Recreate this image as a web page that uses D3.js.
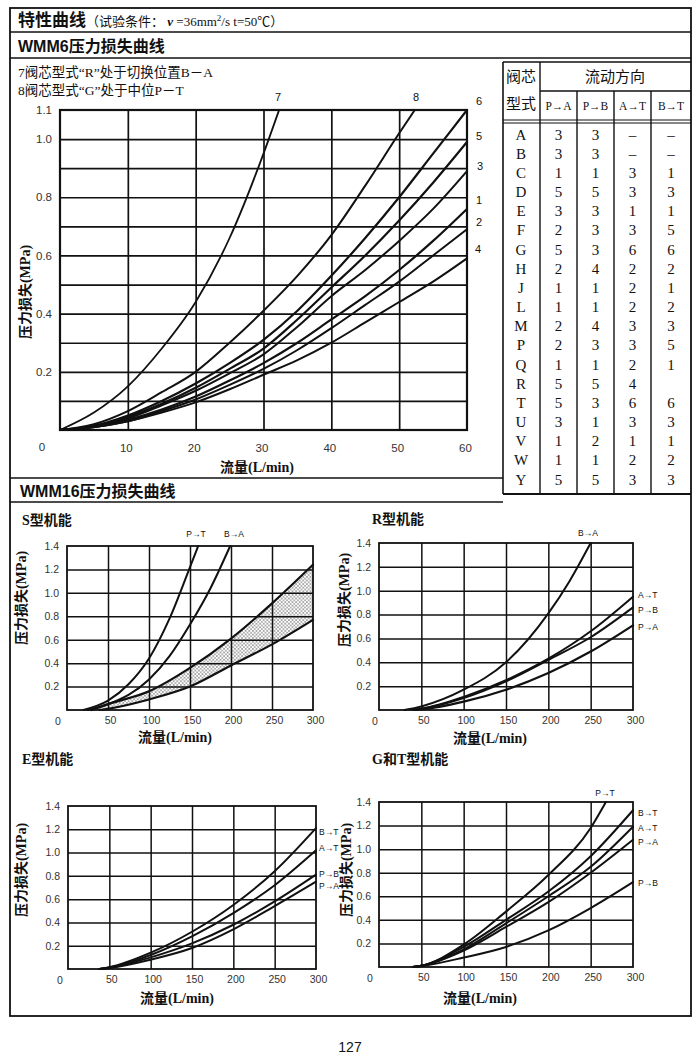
<!DOCTYPE html>
<html><head><meta charset="utf-8">
<script src="https://cdn.jsdelivr.net/npm/d3@7"></script>
<style>
body{margin:0;background:#fff;}
svg{display:block;}
.serif{font-family:"Liberation Serif","Noto Sans CJK SC",serif;}
.sans{font-family:"Liberation Sans","Noto Sans CJK SC",sans-serif;}
</style></head>
<body>
<svg id="c" width="700" height="1062"></svg>
<script>
// ---------- WMM6 data (flow L/min, pressure loss MPa) ----------
const w6Q7 = [0,5,10,15,20,25,30,32.3];
const w6P7 = [0,0.06,0.15,0.28,0.44,0.66,0.95,1.1];
const w6Q8 = [0,5,10,15,20,25,30,35,40,45,50,52.3];
const w6P8 = [0,0.02,0.065,0.13,0.2,0.3,0.41,0.53,0.67,0.84,1.02,1.1];
const w6Q  = [0,5,10,15,20,25,30,35,40,45,50,55,60];
const w6P6 = [0,0.015,0.05,0.1,0.16,0.23,0.31,0.41,0.53,0.66,0.80,0.95,1.10];
const w6P5 = [0,0.013,0.045,0.09,0.145,0.21,0.28,0.38,0.49,0.60,0.72,0.85,0.99];
const w6P3 = [0,0.012,0.04,0.085,0.135,0.195,0.26,0.355,0.46,0.55,0.65,0.76,0.89];
const w6P1 = [0,0.01,0.035,0.07,0.115,0.17,0.23,0.30,0.38,0.46,0.55,0.65,0.76];
const w6P2 = [0,0.01,0.03,0.065,0.105,0.155,0.21,0.275,0.35,0.43,0.51,0.60,0.69];
const w6P4 = [0,0.01,0.03,0.06,0.095,0.14,0.19,0.24,0.30,0.37,0.44,0.51,0.59];
const w6XTicks = [10,20,30,40,50,60];
const w6YTicks = [0.2,0.4,0.6,0.8,1.0,1.1];
const w6YTickLabels = ["0.2","0.4","0.6","0.8","1.0","1.1"];

// ---------- table ----------
const tblTypes = ["A","B","C","D","E","F","G","H","J","L","M","P","Q","R","T","U","V","W","Y"];
const tblPA = ["3","3","1","5","3","2","5","2","1","1","2","2","1","5","5","3","1","1","5"];
const tblPB = ["3","3","1","5","3","3","3","4","1","1","4","3","1","5","3","1","2","1","5"];
const tblAT = ["–","–","3","3","1","3","6","2","2","2","3","3","2","4","6","3","1","2","3"];
const tblBT = ["–","–","1","3","1","5","6","2","1","2","3","5","1","","6","3","1","2","3"];
const tblHeads = ["P→A","P→B","A→T","B→T"];

// ---------- WMM16 data (flow L/min, pressure loss MPa) ----------
const bigXTicks = [50,100,150,200,250,300];
const bigYTicks = [0.2,0.4,0.6,0.8,1.0,1.2,1.4];
const bigYTickLabels = ["0.2","0.4","0.6","0.8","1.0","1.2","1.4"];
// S
const sQ_PT = [20,50,75,100,125,150,160];
const sP_PT = [0,0.08,0.22,0.44,0.78,1.22,1.4];
const sQ_BA = [25,50,100,125,150,175,199];
const sP_BA = [0,0.05,0.26,0.46,0.73,1.04,1.4];
const sQ_BandHi = [30,50,100,150,200,250,300];
const sP_BandHi = [0,0.05,0.16,0.36,0.61,0.91,1.24];
const sQ_BandLo = [40,50,100,150,200,250,300];
const sP_BandLo = [0,0.01,0.09,0.20,0.38,0.56,0.77];
// R
const rQ_BA = [30,50,100,150,200,225,250];
const rP_BA = [0,0.03,0.17,0.40,0.81,1.08,1.4];
const rQ = [40,50,100,150,200,250,300];
const rP_AT = [0,0.01,0.11,0.25,0.43,0.66,0.95];
const rP_PB = [0,0.01,0.10,0.24,0.42,0.61,0.86];
const rP_PA = [0,0.005,0.07,0.17,0.31,0.49,0.71];
// E
const eQ = [38,50,100,150,200,250,300];
const eP_BT = [0,0.015,0.14,0.32,0.55,0.84,1.21];
const eP_AT = [0,0.012,0.12,0.28,0.48,0.72,1.02];
const eP_PB = [0,0.01,0.10,0.22,0.38,0.58,0.81];
const eP_PA = [0,0.008,0.08,0.18,0.34,0.54,0.75];
// G & T
const gQ_PT = [40,50,100,150,200,250,268];
const gP_PT = [0,0.01,0.19,0.47,0.78,1.18,1.4];
const gQ = [40,50,100,150,200,250,300];
const gP_BT = [0,0.01,0.17,0.40,0.64,0.94,1.33];
const gP_AT = [0,0.01,0.15,0.37,0.60,0.85,1.19];
const gP_PA = [0,0.01,0.14,0.34,0.55,0.80,1.08];
const gP_PB = [0,0.008,0.08,0.17,0.31,0.50,0.72];

const svg = d3.select("#c");
const ink = "#111";

// stipple pattern
const defs = svg.append("defs");
const pat = defs.append("pattern").attr("id","dots").attr("patternUnits","userSpaceOnUse").attr("width",3.6).attr("height",3.6);
pat.append("circle").attr("cx",0.9).attr("cy",0.9).attr("r",0.7).attr("fill","#222");
pat.append("circle").attr("cx",2.7).attr("cy",2.7).attr("r",0.6).attr("fill","#222");

// ---------- page frame ----------
function hline(x1,x2,y,w){svg.append("line").attr("x1",x1).attr("x2",x2).attr("y1",y).attr("y2",y).attr("stroke",ink).attr("stroke-width",w||1.6);}
function vline(x,y1,y2,w){svg.append("line").attr("x1",x).attr("x2",x).attr("y1",y1).attr("y2",y2).attr("stroke",ink).attr("stroke-width",w||1.6);}
svg.append("rect").attr("x",10).attr("y",8).attr("width",681).attr("height",1008).attr("fill","none").attr("stroke",ink).attr("stroke-width",1.8);
hline(10,691,32,1.6);
hline(10,691,58,1.6);
hline(10,503,478,1.6);
hline(10,503,502,1.6);

const t1 = svg.append("text").attr("x",18).attr("y",26).attr("fill",ink);
t1.append("tspan").attr("class","sans").attr("font-size",17).attr("font-weight","bold").text("特性曲线");
t1.append("tspan").attr("class","serif").attr("font-size",13).text("（试验条件： ");
t1.append("tspan").attr("class","serif").attr("font-size",13).attr("font-weight","bold").attr("font-style","italic").text("ν");
t1.append("tspan").attr("class","serif").attr("font-size",13).text(" =36mm");
t1.append("tspan").attr("class","serif").attr("font-size",9).attr("dy",-5).text("2");
t1.append("tspan").attr("class","serif").attr("font-size",13).attr("dy",5).text("/s  t=50℃）");

svg.append("text").attr("class","sans").attr("x",18).attr("y",52).attr("font-size",16).attr("font-weight","bold").attr("fill",ink).text("WMM6压力损失曲线");
svg.append("text").attr("class","serif").attr("x",18).attr("y",77).attr("font-size",13.5).attr("fill",ink).text("7阀芯型式“R”处于切换位置B－A");
svg.append("text").attr("class","serif").attr("x",18).attr("y",95).attr("font-size",13.5).attr("fill",ink).text("8阀芯型式“G”处于中位P－T");
svg.append("text").attr("class","sans").attr("x",20).attr("y",497).attr("font-size",16).attr("font-weight","bold").attr("fill",ink).text("WMM16压力损失曲线");
svg.append("text").attr("class","sans").attr("x",350).attr("y",1052).attr("font-size",14).attr("text-anchor","middle").attr("fill",ink).text("127");

// ---------- generic chart ----------
function chart(o){
  const x = d3.scaleLinear().domain(o.xd).range([o.x0,o.x1]);
  const y = d3.scaleLinear().domain(o.yd).range([o.y0,o.y1]);
  const g = svg.append("g");
  const gb = g.append("g"); // background layer for fills
  g.append("g").attr("transform",`translate(0,${o.y0})`)
    .call(d3.axisBottom(x).tickValues(o.gx).tickSize(-(o.y0-o.y1)).tickFormat(""))
    .call(s=>{s.select(".domain").remove();s.selectAll("line").attr("stroke",ink).attr("stroke-width",o.gw);});
  g.append("g").attr("transform",`translate(${o.x0},0)`)
    .call(d3.axisLeft(y).tickValues(o.gy).tickSize(-(o.x1-o.x0)).tickFormat(""))
    .call(s=>{s.select(".domain").remove();s.selectAll("line").attr("stroke",ink).attr("stroke-width",o.gw);});
  g.append("rect").attr("x",o.x0).attr("y",o.y1).attr("width",o.x1-o.x0).attr("height",o.y0-o.y1)
    .attr("fill","none").attr("stroke",ink).attr("stroke-width",o.bw);
  g.append("g").attr("transform",`translate(0,${o.y0+o.xlOff})`)
    .call(d3.axisBottom(x).tickValues(o.xl).tickSize(0).tickPadding(0))
    .call(s=>{s.select(".domain").remove();s.selectAll("text").attr("font-family","Liberation Sans, sans-serif").attr("font-size",o.tf).attr("fill","#333").attr("dx",o.xlDx||0);});
  g.append("g").attr("transform",`translate(${o.x0-o.ylOff},0)`)
    .call(d3.axisLeft(y).tickValues(o.yl).tickSize(0).tickPadding(0).tickFormat((d,i)=>o.ylf[i]))
    .call(s=>{s.select(".domain").remove();s.selectAll("text").attr("font-family","Liberation Sans, sans-serif").attr("font-size",o.tf).attr("fill","#333");});
  g.append("text").attr("x",o.zx).attr("y",o.zy).attr("font-family","Liberation Sans, sans-serif").attr("font-size",o.tf).attr("fill","#333").attr("text-anchor","middle").text("0");
  g.append("text").attr("class","serif").attr("x",o.xtX).attr("y",o.xtY).attr("font-size",o.ttf).attr("font-weight","bold").attr("text-anchor","middle").attr("fill",ink).text("流量(L/min)");
  g.append("text").attr("class","serif").attr("transform",`translate(${o.ytX},${o.ytY}) rotate(-90)`).attr("font-size",o.ttf).attr("font-weight","bold").attr("text-anchor","middle").attr("fill",ink).text("压力损失(MPa)");
  return {x,y,g,gb};
}
const mkLine = (c,qs)=>d3.line().x((d,i)=>c.x(qs[i])).y(d=>c.y(d)).curve(d3.curveMonotoneX);
function curve(c,qs,ps,w){c.g.append("path").attr("d",mkLine(c,qs)(ps)).attr("fill","none").attr("stroke",ink).attr("stroke-width",w||2).attr("stroke-linecap","round");}
function lab(txt,x,y,anchor,size){svg.append("text").attr("x",x).attr("y",y).attr("font-family","Liberation Sans, sans-serif").attr("font-size",size||9).attr("fill",ink).attr("text-anchor",anchor||"start").text(txt);}
function title(txt,x,y){svg.append("text").attr("class","serif").attr("x",x).attr("y",y).attr("font-size",14).attr("font-weight","bold").attr("fill",ink).text(txt);}

// ---------- WMM6 chart ----------
const c6 = chart({xd:[0,60],yd:[0,1.1],x0:60,x1:467,y0:430,y1:110,
  gx:d3.range(10,60,10),gy:d3.range(1,11).map(d=>d/10),gw:1.7,bw:2.2,
  xl:w6XTicks,xlOff:14,xlDx:-2,yl:w6YTicks,ylf:w6YTickLabels,ylOff:8,tf:11.5,
  zx:42,zy:451,xtX:257,xtY:472,ytX:30,ytY:292,ttf:14});
curve(c6,w6Q7,w6P7,1.8);
curve(c6,w6Q8,w6P8,2);
curve(c6,w6Q,w6P6,2.2);
curve(c6,w6Q,w6P5,2.2);
curve(c6,w6Q,w6P3,2);
curve(c6,w6Q,w6P1,2.2);
curve(c6,w6Q,w6P2,2);
curve(c6,w6Q,w6P4,2);
[["7",278,101],["8",416,101],["6",479,105],["5",479,140],["3",480,170],["1",479,204],["2",479,226],["4",478,253]]
  .forEach(d=>lab(d[0],d[1],d[2],"middle",11));

// ---------- table ----------
const colX = [503,540,577,614,651,691];
vline(503,62,494,1.6);
vline(540,62,494,1.4);
hline(503,691,62,1.6);
hline(540,691,91,1.4);
hline(503,691,120,1.2);
hline(503,691,123,1.2);
hline(503,691,494,1.8);
[577,614,651].forEach(x=>vline(x,91,494,1.4));
svg.append("text").attr("class","serif").attr("x",521).attr("y",82).attr("font-size",15).attr("text-anchor","middle").attr("fill",ink).text("阀芯");
svg.append("text").attr("class","serif").attr("x",521).attr("y",109).attr("font-size",15).attr("text-anchor","middle").attr("fill",ink).text("型式");
svg.append("text").attr("class","serif").attr("x",615).attr("y",82).attr("font-size",15).attr("text-anchor","middle").attr("fill",ink).text("流动方向");
tblHeads.forEach((h,i)=>svg.append("text").attr("class","serif").attr("x",(colX[i+1]+colX[i+2])/2).attr("y",110).attr("font-size",11.5).attr("text-anchor","middle").attr("fill",ink).text(h));
const rowY = d3.scalePoint().domain(tblTypes).range([134,479]);
const cols = [tblTypes,tblPA,tblPB,tblAT,tblBT];
const colC = [521,558.5,595.5,632.5,671];
cols.forEach((arr,ci)=>arr.forEach((v,ri)=>{
  svg.append("text").attr("class","serif").attr("x",colC[ci]).attr("y",rowY(tblTypes[ri])+5.5).attr("font-size",15).attr("text-anchor","middle").attr("fill",ink).text(v);
}));

// ---------- WMM16 charts ----------
const common = {xd:[0,300],yd:[0,1.4],gx:[50,100,150,200,250],gy:[0.2,0.4,0.6,0.8,1.0,1.2],gw:1.5,bw:1.8,
  xl:bigXTicks,xlOff:7,xlDx:2,yl:bigYTicks,ylf:bigYTickLabels,ylOff:8,tf:10.5,ttf:14};

// S
title("S型机能",22,525);
const cs = chart(Object.assign({},common,{x0:67,x1:313,y0:710,y1:546,zx:58,zy:725,xtX:175,xtY:742,ytX:26,ytY:598}));
const bandHi = sQ_BandHi.map((q,i)=>[q,sP_BandHi[i]]);
const bandLo = sQ_BandLo.map((q,i)=>[q,sP_BandLo[i]]);
const hiPath = d3.line().x(d=>cs.x(d[0])).y(d=>cs.y(d[1])).curve(d3.curveMonotoneX)(bandHi);
const loPath = d3.line().x(d=>cs.x(d[0])).y(d=>cs.y(d[1])).curve(d3.curveMonotoneX)(bandLo.slice().reverse());
cs.gb.append("path").attr("d",hiPath+"L"+loPath.slice(1)+"Z").attr("fill","url(#dots)").attr("stroke","none");
curve(cs,sQ_PT,sP_PT,2);
curve(cs,sQ_BA,sP_BA,2);
curve(cs,sQ_BandHi,sP_BandHi,2.2);
curve(cs,sQ_BandLo,sP_BandLo,2.2);
lab("P→T",196,537,"middle",8.5);
lab("B→A",234,537,"middle",8.5);

// R
title("R型机能",372,524);
const cr = chart(Object.assign({},common,{x0:379,x1:633,y0:710,y1:543,zx:375,zy:725,xtX:490,xtY:743,ytX:349,ytY:600}));
curve(cr,rQ_BA,rP_BA,2);
curve(cr,rQ,rP_AT,2);
curve(cr,rQ,rP_PB,2);
curve(cr,rQ,rP_PA,2.2);
lab("B→A",588,536,"middle",8.5);
lab("A→T",638,598,"start",8.5);
lab("P→B",638,613,"start",8.5);
lab("P→A",638,630,"start",8.5);

// E
title("E型机能",22,764);
const ce = chart(Object.assign({},common,{x0:68,x1:316,y0:969,y1:806,zx:60,zy:984,xtX:177,xtY:1003,ytX:26,ytY:870}));
curve(ce,eQ,eP_BT,2);
curve(ce,eQ,eP_AT,2);
curve(ce,eQ,eP_PB,2);
curve(ce,eQ,eP_PA,2);
lab("B→T",319,835,"start",8.5);
lab("A→T",319,851,"start",8.5);
lab("P→B",319,877,"start",8.5);
lab("P→A",319,889,"start",8.5);

// G & T
title("G和T型机能",372,764);
const cg = chart(Object.assign({},common,{x0:379,x1:633,y0:967,y1:802,zx:370,zy:982,xtX:480,xtY:1003,ytX:351,ytY:870}));
curve(cg,gQ_PT,gP_PT,2);
curve(cg,gQ,gP_BT,2);
curve(cg,gQ,gP_AT,2);
curve(cg,gQ,gP_PA,2);
curve(cg,gQ,gP_PB,2);
lab("P→T",605,796,"middle",8.5);
lab("B→T",638,816,"start",8.5);
lab("A→T",638,831,"start",8.5);
lab("P→A",638,845,"start",8.5);
lab("P→B",638,886,"start",8.5);
</script></body></html>
